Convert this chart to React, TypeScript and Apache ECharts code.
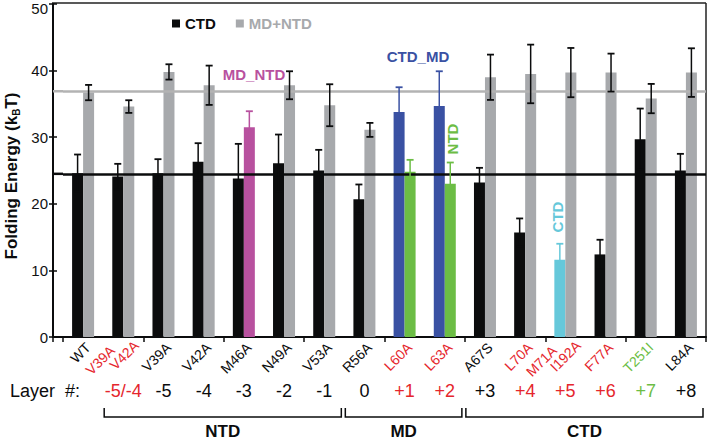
import React, { useEffect, useRef } from 'react';
import * as echarts from 'echarts';

// ---------- data ----------
const categories = ['WT', 'V39A\nV42A', 'V39A', 'V42A', 'M46A', 'N49A', 'V53A', 'R56A', 'L60A', 'L63A', 'A67S', 'L70A', 'M71A\nI192A', 'F77A', 'T251I', 'L84A'];
const labelColorKeys = ['k', 'r', 'k', 'k', 'k', 'k', 'k', 'k', 'r', 'r', 'k', 'r', 'r', 'r', 'g', 'k'];

const ctdValues = [24.6, 24.1, 24.6, 26.3, 23.8, 26.1, 25.0, 20.7, 33.8, 34.7, 23.2, 15.7, 11.6, 12.4, 29.7, 25.0];
const ctdErrors = [2.8, 1.9, 2.1, 2.8, 5.2, 4.3, 3.1, 2.2, 3.7, 5.2, 2.2, 2.1, 2.4, 2.2, 4.6, 2.5];
const ctdColorKeys = ['k', 'k', 'k', 'k', 'k', 'k', 'k', 'k', 'b', 'b', 'k', 'k', 'c', 'k', 'k', 'k'];

const ntdValues = [36.7, 34.6, 39.8, 37.8, 31.5, 37.8, 34.8, 31.1, 24.8, 23.0, 39.0, 39.5, 39.7, 39.7, 35.8, 39.7];
const ntdErrors = [1.15, 0.95, 1.15, 2.95, 2.4, 2.1, 3.15, 1.05, 1.8, 3.2, 3.4, 4.4, 3.7, 2.85, 2.2, 3.65];
const ntdColorKeys = ['y', 'y', 'y', 'y', 'm', 'y', 'y', 'y', 'g', 'g', 'y', 'y', 'y', 'y', 'y', 'y'];

const refLines = [24.5, 36.9]; // WT CTD, WT MD+NTD

const layerLabels = ['', '-5/-4', '-5', '-4', '-3', '-2', '-1', '0', '+1', '+2', '+3', '+4', '+5', '+6', '+7', '+8'];
const layerColorKeys = ['k', 'r', 'k', 'k', 'k', 'k', 'k', 'k', 'r', 'r', 'k', 'r', 'r', 'r', 'g', 'k'];

const domainNames = ['NTD', 'MD', 'CTD'];
const domainFrom = [1, 7, 10];
const domainTo = [6, 9, 15];

const annotations = [
  { text: 'MD_NTD', key: 'm', x: 254, y: 74, rot: 0 },
  { text: 'CTD_MD', key: 'b', x: 418, y: 56, rot: 0 },
  { text: 'NTD', key: 'g', x: 452, y: 139, rot: 90 },
  { text: 'CTD', key: 'c', x: 557, y: 217, rot: 90 },
];

// ---------- style ----------
const FONT = '"Liberation Sans", Arial, Helvetica, sans-serif';
const COLORS: Record<string, string> = {
  k: '#0b0c0d',
  y: '#a7a9ac',
  r: '#e5262d',
  g: '#6cbd45',
  b: '#3a51a3',
  c: '#66c8da',
  m: '#b8519f',
};
const REF_GRAY = '#b3b3b3';
const BAR_W = 11;
const CAP = 3.5;
const GRID_LEFT = 63;
const AXIS_X = 53;
const GRID_TOP = 4;
const GRID_BOTTOM_Y = 337;
const RIGHT_X = 706;

function errorSeries(name: string, values: number[], errors: number[], keys: string[], side: number) {
  return {
    type: 'custom',
    name,
    z: 4,
    silent: true,
    data: values.map((v, i) => [i, v, errors[i]]),
    encode: { x: 0, y: 1 },
    renderItem: (params: any, api: any) => {
      const i = api.value(0);
      const v = api.value(1);
      const e = api.value(2);
      const c = api.coord([i, v]);
      const x = c[0] + side * BAR_W / 2;
      const top = api.coord([i, v + e])[1];
      const bot = api.coord([i, v - e])[1];
      const key = keys[params.dataIndex];
      const col = key === 'y' ? COLORS.k : COLORS[key];
      return {
        type: 'group',
        children: [
          { type: 'line', shape: { x1: x, y1: top, x2: x, y2: bot }, style: { stroke: col, lineWidth: 1.5 } },
          { type: 'line', shape: { x1: x - CAP, y1: top, x2: x + CAP, y2: top }, style: { stroke: col, lineWidth: 1.8 } },
          { type: 'line', shape: { x1: x - CAP, y1: bot, x2: x + CAP, y2: bot }, style: { stroke: col, lineWidth: 1.8 } },
        ],
      };
    },
  };
}

export default function App() {
  const ref = useRef<HTMLDivElement>(null);

  useEffect(() => {
    if (!ref.current) return;
    const chart = echarts.init(ref.current, null, { renderer: 'svg' });

    const option: any = {
      animation: false,
      backgroundColor: '#ffffff',
      textStyle: { fontFamily: FONT },
      grid: { left: GRID_LEFT, right: 709 - RIGHT_X, top: GRID_TOP, bottom: 441 - GRID_BOTTOM_Y, outerBoundsMode: 'none' },
      legend: {
        left: 172,
        top: 16,
        padding: 0,
        icon: 'rect',
        itemWidth: 8,
        itemHeight: 8,
        itemGap: 20,
        selectedMode: false,
        textStyle: { fontSize: 15, fontWeight: 'bold', fontFamily: FONT },
        data: [
          { name: 'CTD', textStyle: { color: COLORS.k } },
          { name: 'MD+NTD', textStyle: { color: COLORS.y } },
        ],
      },
      xAxis: {
        type: 'category',
        data: categories,
        axisLine: { show: true, lineStyle: { color: COLORS.k, width: 2 } },
        axisTick: { show: true, length: 5, lineStyle: { color: COLORS.k, width: 1.5 } },
        axisLabel: { show: false },
        splitLine: { show: false },
      },
      yAxis: [
        {
          type: 'value',
          min: 0,
          max: 50,
          interval: 10,
          offset: GRID_LEFT - AXIS_X,
          axisLine: { show: true, lineStyle: { color: COLORS.k, width: 2 } },
          axisTick: { show: true, length: 4, lineStyle: { color: COLORS.k, width: 1.5 } },
          axisLabel: {
            color: '#111',
            fontSize: 15,
            margin: 5,
            fontFamily: FONT,
            formatter: (v: number) => (v === 50 ? '{t|50}' : String(v)),
            rich: { t: { color: '#111', fontSize: 15, fontFamily: FONT, padding: [9, 0, 0, 0] } },
          },
          splitLine: { show: false },
        },
        {
          type: 'value',
          min: 0,
          max: 50,
          interval: 10,
          position: 'left',
          offset: GRID_LEFT - AXIS_X,
          axisLine: { show: false },
          axisTick: { show: true, inside: true, length: 4, lineStyle: { color: COLORS.k, width: 1.5 } },
          axisLabel: { show: false },
          splitLine: { show: false },
        },
      ],
      series: [
        {
          type: 'bar',
          name: 'CTD',
          barWidth: BAR_W,
          barGap: '0%',
          itemStyle: { color: COLORS.k },
          data: ctdValues.map((v, i) => ({ value: v, itemStyle: { color: COLORS[ctdColorKeys[i]] } })),
          markLine: {
            silent: true,
            symbol: 'none',
            label: { show: false },
            z: 3,
            data: [
              { yAxis: refLines[0], lineStyle: { color: COLORS.k, width: 2.5, type: 'solid' } },
              { yAxis: refLines[1], lineStyle: { color: REF_GRAY, width: 2.5, type: 'solid' } },
            ],
          },
        },
        {
          type: 'bar',
          name: 'MD+NTD',
          barWidth: BAR_W,
          barGap: '0%',
          itemStyle: { color: COLORS.y },
          data: ntdValues.map((v, i) => ({ value: v, itemStyle: { color: COLORS[ntdColorKeys[i]] } })),
        },
        errorSeries('CTD error', ctdValues, ctdErrors, ctdColorKeys, -1),
        errorSeries('MD+NTD error', ntdValues, ntdErrors, ntdColorKeys, 1),
      ],
    };

    chart.setOption(option);

    const xs = categories.map((_, i) => chart.convertToPixel({ xAxisIndex: 0 }, i) as number);
    const catW = xs[1] - xs[0];
    const refY = refLines.map((v) => chart.convertToPixel({ yAxisIndex: 0 }, v) as number);

    const graphics: any[] = [];
    // frame
    graphics.push({ type: 'line', shape: { x1: AXIS_X - 1, y1: 3, x2: RIGHT_X, y2: 3 }, style: { stroke: '#222', lineWidth: 1.5 } });
    graphics.push({ type: 'line', shape: { x1: RIGHT_X, y1: 3, x2: RIGHT_X, y2: GRID_BOTTOM_Y }, style: { stroke: '#222', lineWidth: 1.5 } });
    // x-axis extension to the y axis
    graphics.push({ type: 'line', shape: { x1: AXIS_X - 1, y1: GRID_BOTTOM_Y, x2: GRID_LEFT, y2: GRID_BOTTOM_Y }, style: { stroke: COLORS.k, lineWidth: 2 } });
    graphics.push({ type: 'line', shape: { x1: AXIS_X, y1: GRID_BOTTOM_Y, x2: AXIS_X, y2: GRID_BOTTOM_Y + 5 }, style: { stroke: COLORS.k, lineWidth: 1.5 } });
    // reference line extensions
    refY.forEach((y, i) => {
      graphics.push({ type: 'line', z: 10, shape: { x1: AXIS_X, y1: y, x2: GRID_LEFT, y2: y }, style: { stroke: i === 0 ? COLORS.k : REF_GRAY, lineWidth: 2.5 } });
    });
    // y axis title
    graphics.push({
      type: 'text',
      x: 11,
      y: 176,
      rotation: Math.PI / 2,
      style: {
        text: '{a|Folding Energy (k}{s|B}{a|T)}',
        align: 'center',
        verticalAlign: 'middle',
        rich: {
          a: { fontSize: 17, fontWeight: 'bold', fontFamily: FONT, fill: COLORS.k, lineHeight: 20 },
          s: { fontSize: 10, fontWeight: 'bold', fontFamily: FONT, fill: COLORS.k, lineHeight: 10, verticalAlign: 'bottom' },
        },
      },
    });
    // rotated category labels
    categories.forEach((cat, i) => {
      const col = COLORS[labelColorKeys[i]];
      const lines = cat.split('\n');
      const anchors = lines.length === 1
        ? [[xs[i] + 5, 345]]
        : [[xs[i] - 11, 348], [xs[i] + 13, 343]];
      lines.forEach((t, j) => {
        graphics.push({
          type: 'text',
          x: anchors[j][0],
          y: anchors[j][1],
          rotation: Math.PI / 4,
          style: { text: t, fill: col, fontSize: 14, fontFamily: FONT, align: 'right', verticalAlign: 'middle' },
        });
      });
    });
    // annotations
    annotations.forEach((a) => {
      graphics.push({
        type: 'text',
        x: a.x,
        y: a.y,
        rotation: (a.rot * Math.PI) / 180,
        z: 20,
        style: { text: a.text, fill: COLORS[a.key], fontSize: 15, fontWeight: 'bold', fontFamily: FONT, align: 'center', verticalAlign: 'middle' },
      });
    });
    // layer row
    graphics.push({
      type: 'text', x: 10, y: 391,
      style: { text: 'Layer  #:', fill: COLORS.k, fontSize: 18, fontFamily: FONT, align: 'left', verticalAlign: 'middle' },
    });
    layerLabels.forEach((t, i) => {
      if (!t) return;
      graphics.push({
        type: 'text', x: xs[i], y: 391,
        style: { text: t, fill: COLORS[layerColorKeys[i]], fontSize: 18, fontFamily: FONT, align: 'center', verticalAlign: 'middle' },
      });
    });
    // domain brackets
    domainNames.forEach((n, d) => {
      const x1 = xs[domainFrom[d]] - catW / 2 + 1;
      const x2 = xs[domainTo[d]] + catW / 2 - 3;
      graphics.push({
        type: 'polyline',
        shape: { points: [[x1, 408], [x1, 417], [x2, 417], [x2, 408]] },
        style: { stroke: COLORS.k, lineWidth: 1.5, fill: null },
      });
      graphics.push({
        type: 'text', x: (x1 + x2) / 2, y: 431,
        style: { text: n, fill: COLORS.k, fontSize: 17, fontWeight: 'bold', fontFamily: FONT, align: 'center', verticalAlign: 'middle' },
      });
    });

    chart.setOption({ graphic: graphics });

    return () => chart.dispose();
  }, []);

  return (
    <div
      ref={ref}
      style={{ position: 'fixed', left: 0, top: 0, width: 709, height: 441, background: '#fff' }}
    />
  );
}
